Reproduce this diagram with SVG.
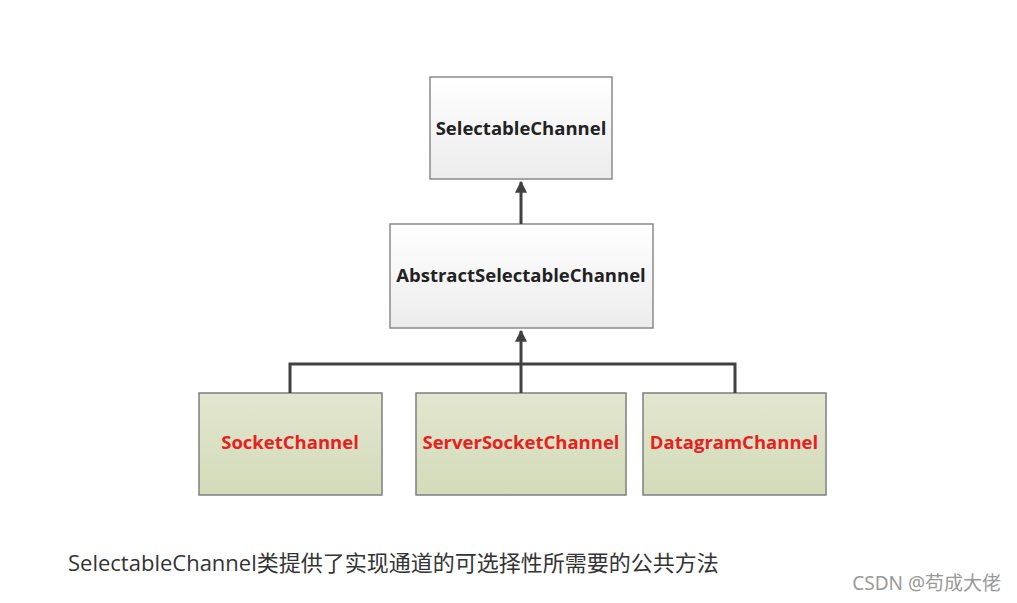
<svg xmlns="http://www.w3.org/2000/svg" width="1017" height="603" viewBox="0 0 1017 603">
<defs>
<linearGradient id="g1" x1="0" y1="0" x2="0" y2="1"><stop offset="0" stop-color="#ffffff"/><stop offset="1" stop-color="#ececec"/></linearGradient>
<linearGradient id="g2" x1="0" y1="0" x2="0" y2="1"><stop offset="0" stop-color="#e2e6cf"/><stop offset="1" stop-color="#d3dbb9"/></linearGradient>
<marker id="ar" viewBox="0 0 10 10" refX="9" refY="5" markerWidth="4" markerHeight="4" orient="auto"><path d="M0,0 L10,5 L0,10 z" fill="#404040"/></marker>
</defs>
<style>
.w{fill:url(#g1);stroke:#8a8a8a;stroke-width:1.5}
.g{fill:url(#g2);stroke:#7f7f7f;stroke-width:1.5}
.t{font-family:"Open Sans","Liberation Sans",sans-serif;font-weight:bold;font-size:18.5px;text-anchor:middle}
.c{stroke:#404040;stroke-width:3;fill:none}
</style>
<rect width="1017" height="603" fill="#fff"/>
<g id="n1"><rect class="w" x="430" y="77" width="182" height="102"/><text class="t" x="521" y="135" fill="#222">SelectableChannel</text></g>
<g id="n2"><rect class="w" x="390" y="224" width="263" height="104"/><text class="t" x="521" y="282" fill="#222">AbstractSelectableChannel</text></g>
<g id="n3"><rect class="g" x="199" y="393" width="183" height="102"/><text class="t" x="290" y="449" fill="#e8201e">SocketChannel</text></g>
<g id="n4"><rect class="g" x="416" y="393" width="210" height="102"/><text class="t" x="521" y="449" fill="#e8201e">ServerSocketChannel</text></g>
<g id="n5"><rect class="g" x="643" y="393" width="183" height="102"/><text class="t" x="734" y="449" fill="#e8201e">DatagramChannel</text></g>
<g id="edges">
<path class="c" d="M521 224 V182" marker-end="url(#ar)"/>
<path class="c" d="M521 393 V331" marker-end="url(#ar)"/>
<path class="c" d="M290 393 V364 H735 V393"/>
</g>
<text x="68" y="571" font-family="'Open Sans','Noto Sans CJK SC',sans-serif" font-size="22" fill="#333">SelectableChannel类提供了实现通道的可选择性所需要的公共方法</text>
<text x="1001" y="590" text-anchor="end" font-family="'Noto Sans','Noto Sans CJK SC',sans-serif" font-size="19" fill="#999">CSDN @苟成大佬</text>
</svg>
